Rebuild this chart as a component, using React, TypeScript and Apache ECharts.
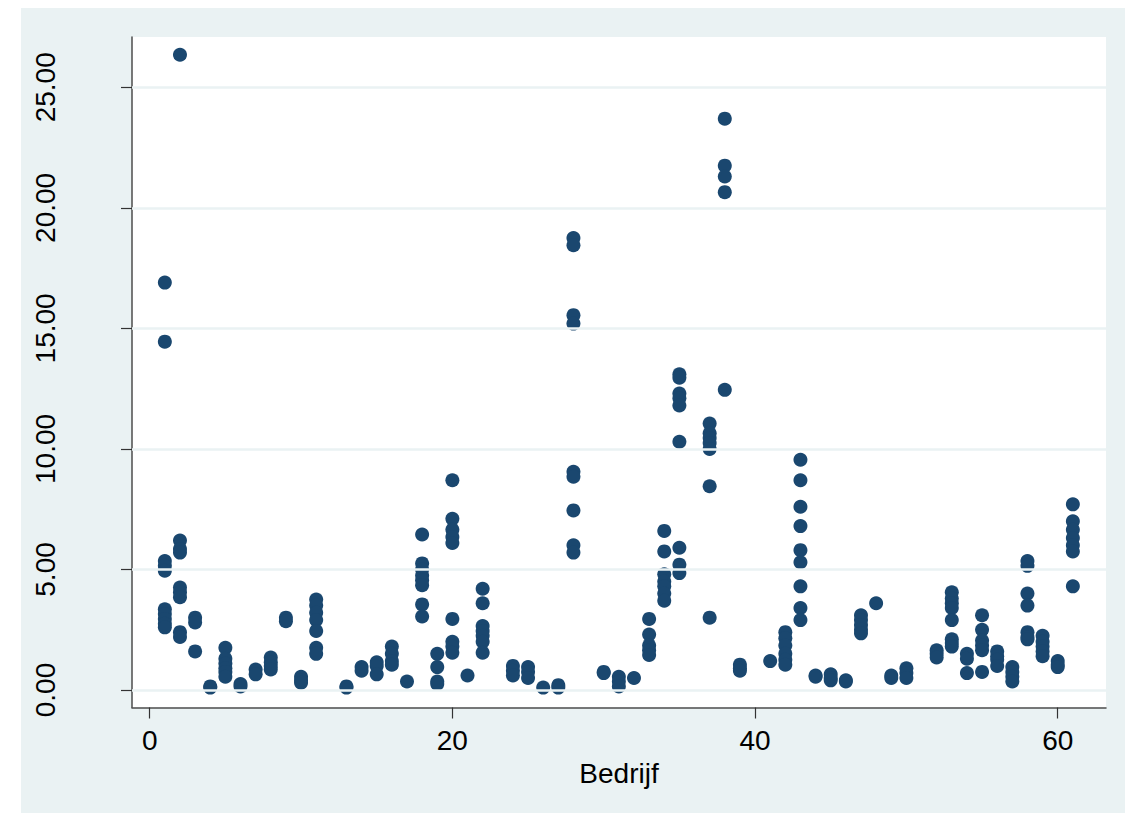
import React, { useEffect, useRef } from "react";
import * as echarts from "echarts";

// Company number (Bedrijf) and the observed values for each company
const companies: number[] = [
  1, 2, 3, 4, 5, 6, 7, 8, 9, 10, 11, 13, 14, 15, 16, 17, 18, 19, 20, 21, 22,
  24, 25, 26, 27, 28, 30, 31, 32, 33, 34, 35, 37, 38, 39, 41, 42, 43, 44, 45,
  46, 47, 48, 49, 50, 52, 53, 54, 55, 56, 57, 58, 59, 60, 61,
];

const valuesByCompany: number[][] = [
  [16.9, 14.45, 5.35, 5.15, 4.95, 3.35, 3.15, 2.95, 2.75, 2.6], // 1
  [26.35, 6.2, 5.85, 5.7, 4.25, 4.05, 3.85, 2.4, 2.2], // 2
  [3.0, 2.8, 1.6], // 3
  [0.15, 0.1], // 4
  [1.75, 1.3, 1.1, 0.9, 0.75, 0.55], // 5
  [0.25, 0.15], // 6
  [0.85, 0.65], // 7
  [1.35, 1.15, 1.0, 0.85], // 8
  [3.0, 2.85], // 9
  [0.55, 0.4, 0.3], // 10
  [3.75, 3.5, 3.2, 2.9, 2.45, 1.75, 1.5], // 11
  [0.15, 0.1], // 13
  [0.95, 0.8], // 14
  [1.15, 1.0, 0.65], // 15
  [1.8, 1.5, 1.2, 1.05], // 16
  [0.35], // 17
  [6.45, 5.25, 5.0, 4.75, 4.55, 4.35, 3.55, 3.05], // 18
  [1.5, 0.95, 0.35, 0.25], // 19
  [8.7, 7.1, 6.65, 6.35, 6.1, 2.95, 2.0, 1.8, 1.55], // 20
  [0.6], // 21
  [4.2, 3.6, 2.65, 2.45, 2.25, 2.0, 1.55], // 22
  [1.0, 0.8, 0.6], // 24
  [0.95, 0.75, 0.5], // 25
  [0.1], // 26
  [0.2, 0.1], // 27
  [18.75, 18.45, 15.55, 15.2, 9.05, 8.85, 7.45, 6.0, 5.7], // 28
  [0.75, 0.7], // 30
  [0.55, 0.35, 0.15], // 31
  [0.5], // 32
  [2.95, 2.3, 1.85, 1.65, 1.45], // 33
  [6.6, 5.75, 4.8, 4.5, 4.3, 4.0, 3.7], // 34
  [13.1, 12.95, 12.3, 12.1, 11.8, 10.3, 5.9, 5.2, 4.85], // 35
  [11.05, 10.65, 10.45, 10.25, 10.0, 8.45, 3.0], // 37
  [23.7, 21.75, 21.3, 20.65, 12.45], // 38
  [1.05, 0.9, 0.8], // 39
  [1.2], // 41
  [2.4, 2.15, 1.85, 1.5, 1.25, 1.05], // 42
  [9.55, 8.7, 7.6, 6.8, 5.8, 5.3, 4.3, 3.4, 2.9], // 43
  [0.6, 0.55], // 44
  [0.65, 0.5, 0.4], // 45
  [0.4, 0.35], // 46
  [3.1, 2.9, 2.7, 2.5, 2.35], // 47
  [3.6], // 48
  [0.6, 0.5], // 49
  [0.9, 0.7, 0.5], // 50
  [1.65, 1.5, 1.35], // 52
  [4.05, 3.8, 3.6, 3.4, 2.9, 2.1, 1.95, 1.8], // 53
  [1.5, 1.3, 0.7], // 54
  [3.1, 2.5, 2.05, 1.85, 1.65, 0.75], // 55
  [1.6, 1.4, 1.25, 1.0], // 56
  [0.95, 0.75, 0.55, 0.35], // 57
  [5.35, 5.15, 4.0, 3.5, 2.4, 2.2, 2.1], // 58
  [2.25, 2.0, 1.8, 1.6, 1.4], // 59
  [1.2, 1.05, 0.95], // 60
  [7.7, 7.0, 6.65, 6.3, 6.0, 5.75, 4.3], // 61
];

const xTicks: number[] = [0, 20, 40, 60];
const yTicks: number[] = [0, 5, 10, 15, 20, 25];
const xTitle = "Bedrijf";

const FONT = "'Liberation Sans', Arial, Helvetica, sans-serif";

export default function App() {
  const ref = useRef<HTMLDivElement>(null);

  useEffect(() => {
    if (!ref.current) return;
    const chart = echarts.init(ref.current, undefined, { renderer: "svg" });

    const points: number[][] = [];
    companies.forEach((c, i) => {
      valuesByCompany[i].forEach((v) => points.push([c, v]));
    });

    const option: any = {
      animation: false,
      backgroundColor: "#eaf2f3",
      textStyle: { fontFamily: FONT },
      grid: {
        left: 111,
        right: 19,
        top: 29,
        bottom: 105.5,
        show: true,
        backgroundColor: "#ffffff",
        borderWidth: 0,
      },
      xAxis: {
        type: "value",
        min: -1.17,
        max: 63.19,
        name: xTitle,
        nameLocation: "middle",
        nameGap: 47,
        nameTextStyle: { fontSize: 28, color: "#000", fontFamily: FONT },
        axisLine: { show: true, onZero: false, lineStyle: { color: "#4d4d4d", width: 1.5 } },
        axisTick: { show: true, customValues: xTicks, length: 11, lineStyle: { color: "#333", width: 1.2 } },
        axisLabel: {
          customValues: xTicks,
          fontSize: 28,
          color: "#000",
          margin: 19,
          fontFamily: FONT,
        },
        splitLine: { show: false },
      },
      yAxis: {
        type: "value",
        min: -0.726,
        max: 27.087,
        axisLine: { show: true, onZero: false, lineStyle: { color: "#4d4d4d", width: 1.5 } },
        axisTick: { show: true, customValues: yTicks, length: 11, lineStyle: { color: "#333", width: 1.2 } },
        axisLabel: {
          customValues: yTicks,
          rotate: 90,
          fontSize: 28,
          color: "#000",
          margin: 73,
          fontFamily: FONT,
          formatter: (v: number) => v.toFixed(2),
        },
        splitLine: { show: false },
      },
      series: [
        {
          type: "scatter",
          data: [],
          z: 1,
          silent: true,
          markLine: {
            silent: true,
            symbol: "none",
            label: { show: false },
            lineStyle: { color: "#eaf2f3", width: 2.5, type: "solid" },
            data: yTicks.map((t) => ({ yAxis: t })),
          },
        },
        {
          type: "scatter",
          z: 3,
          data: points,
          symbol: "circle",
          symbolSize: 14,
          itemStyle: { color: "#1a476f", opacity: 1 },
        },
      ],
    };

    chart.setOption(option);
    return () => chart.dispose();
  }, []);

  return (
    <div
      ref={ref}
      style={{ position: "absolute", left: 21, top: 8, width: 1104, height: 805 }}
    />
  );
}
